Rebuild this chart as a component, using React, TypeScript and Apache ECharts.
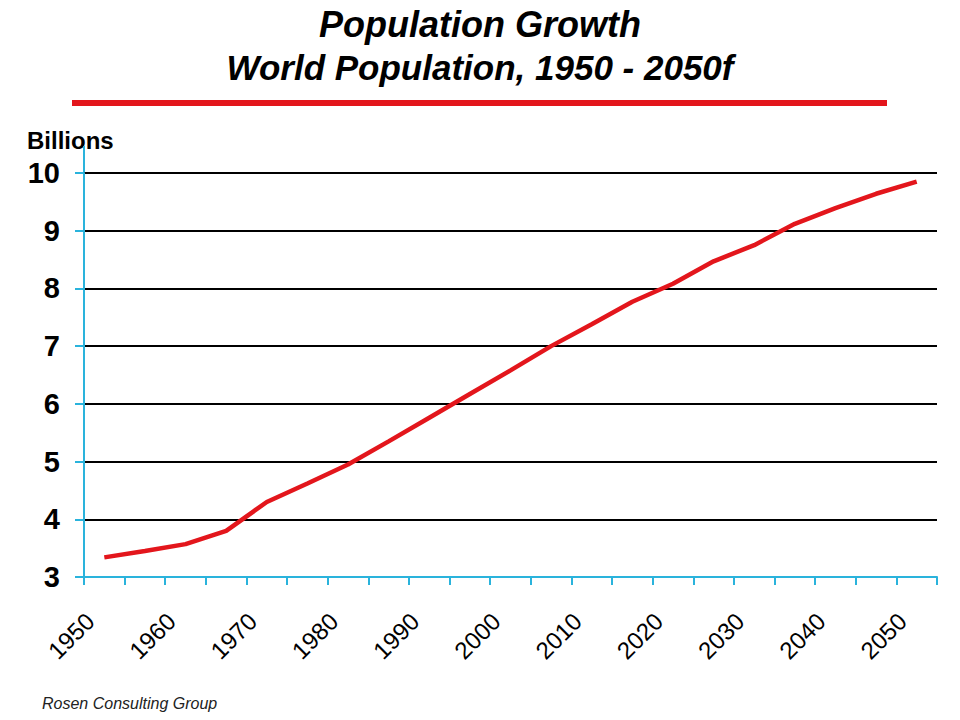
import React, { useEffect, useRef } from 'react';
import * as echarts from 'echarts';

const years = ['1950', '1955', '1960', '1965', '1970', '1975', '1980', '1985', '1990', '1995', '2000', '2005', '2010', '2015', '2020', '2025', '2030', '2035', '2040', '2045', '2050'];
const population = [3.34, 3.45, 3.57, 3.8, 4.3, 4.62, 4.95, 5.35, 5.76, 6.17, 6.58, 7.0, 7.38, 7.77, 8.08, 8.47, 8.75, 9.12, 9.39, 9.64, 9.85];
const yearLabels = ['1950', '1960', '1970', '1980', '1990', '2000', '2010', '2020', '2030', '2040', '2050'];
const labelPositions = [0, 2, 4, 6, 8, 10, 12, 14, 16, 18, 20];

const FONT = "'Liberation Sans', Arial, sans-serif";
const CYAN = '#2ab3dc';
const RED = '#e3161c';

export default function App() {
  const ref = useRef<HTMLDivElement>(null);
  useEffect(() => {
    const chart = echarts.init(ref.current!, null, { renderer: 'svg' });
    chart.setOption({
      animation: false,
      backgroundColor: '#ffffff',
      grid: { left: 84, right: 23, top: 173, bottom: 143, containLabel: false },
      xAxis: [
        {
          type: 'category',
          data: years,
          boundaryGap: true,
          position: 'bottom',
          axisLine: { show: true, onZero: false, lineStyle: { color: CYAN, width: 2 } },
          axisTick: { show: true, interval: 0, length: 8, lineStyle: { color: CYAN, width: 2 } },
          axisLabel: { show: false },
          splitLine: { show: false },
        },
        {
          type: 'value',
          position: 'bottom',
          min: -0.15,
          max: 20.85,
          axisLine: { show: false, onZero: false },
          axisTick: { show: false },
          splitLine: { show: false },
          axisLabel: {
            show: true,
            customValues: labelPositions,
            formatter: (v: number) => {
              const i = labelPositions.indexOf(Math.round(v));
              return i >= 0 ? yearLabels[i] : '';
            },
            rotate: 45,
            margin: 40,
            fontSize: 24,
            color: '#000',
            fontFamily: FONT,
          },
        },
      ],
      yAxis: {
        type: 'value',
        min: 3,
        max: 10,
        interval: 1,
        axisLine: { show: true, onZero: false, lineStyle: { color: CYAN, width: 2 } },
        axisTick: { show: true, length: 9, lineStyle: { color: CYAN, width: 2 } },
        axisLabel: { fontSize: 29, fontWeight: 'bold', color: '#000', margin: 24, fontFamily: FONT },
        splitLine: { show: true, lineStyle: { color: '#000', width: 2 } },
      },
      series: [
        {
          type: 'line',
          xAxisIndex: 0,
          data: population,
          showSymbol: false,
          symbol: 'none',
          lineStyle: { color: RED, width: 4.5 },
          smooth: false,
        },
      ],
      graphic: [
        {
          type: 'text',
          x: 480,
          y: 24,
          style: { text: 'Population Growth', fontSize: 36, fontWeight: 'bold', fontStyle: 'italic', fill: '#000', align: 'center', verticalAlign: 'middle', fontFamily: FONT },
        },
        {
          type: 'text',
          x: 480,
          y: 67,
          style: { text: 'World Population, 1950 - 2050f', fontSize: 35, fontWeight: 'bold', fontStyle: 'italic', fill: '#000', align: 'center', verticalAlign: 'middle', fontFamily: FONT },
        },
        { type: 'rect', shape: { x: 72, y: 100, width: 815, height: 6 }, style: { fill: RED } },
        {
          type: 'text',
          x: 27,
          y: 140,
          style: { text: 'Billions', fontSize: 24, fontWeight: 'bold', fill: '#000', align: 'left', verticalAlign: 'middle', fontFamily: FONT },
        },
        { type: 'line', shape: { x1: 84, y1: 146, x2: 84, y2: 173 }, style: { stroke: CYAN, lineWidth: 2 } },
        {
          type: 'text',
          x: 42,
          y: 703,
          style: { text: 'Rosen Consulting Group', fontSize: 16, fontStyle: 'italic', fill: '#222', align: 'left', verticalAlign: 'middle', fontFamily: FONT },
        },
      ],
    });
    return () => chart.dispose();
  }, []);
  return <div ref={ref} style={{ position: 'absolute', left: 0, top: 0, width: 960, height: 720, background: '#fff' }} />;
}
